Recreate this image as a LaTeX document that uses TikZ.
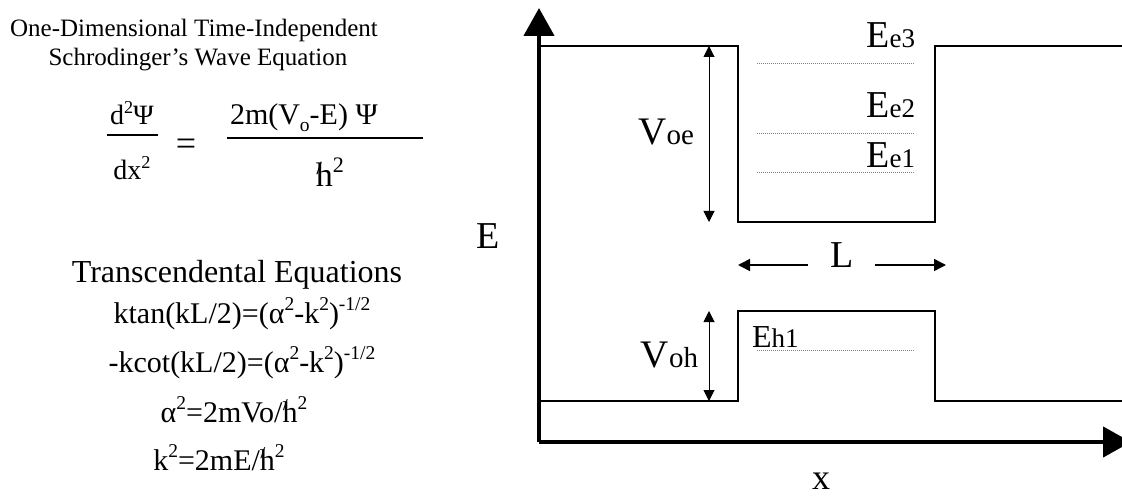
\documentclass[tikz,border=0pt]{standalone}
\usepackage{fontspec}
\setmainfont{Liberation Serif}
\usetikzlibrary{arrows.meta}
\newcommand{\fs}[1]{\fontsize{#1}{#1}\selectfont}
\newcommand{\mysup}[1]{\raisebox{0.42em}{\fontsize{0.65em}{0.65em}\selectfont #1}}
\newcommand{\mysub}[1]{\raisebox{-0.22em}{\fontsize{0.65em}{0.65em}\selectfont #1}}
\newcommand{\hb}{\ooalign{h\cr\kern0.02em\raisebox{0.38em}{\fontsize{0.55em}{0.55em}\selectfont\bfseries /}\cr}}
\begin{document}
\begin{tikzpicture}[x=1pt,y=-1pt,
  axis/.style={line width=4.5pt,-{Triangle[length=28pt,width=30pt]}},
  pot/.style={line width=1.4pt,line join=miter},
  dim/.style={line width=1pt,{Triangle[length=11pt,width=11pt]}-{Triangle[length=11pt,width=11pt]}},
  larr/.style={line width=1.5pt,-{Triangle[length=12pt,width=12pt]}},
  lev/.style={line width=0.9pt,gray,dash pattern=on 1.2pt off 0.8pt},
  frac/.style={line width=1.2pt},
  txt/.style={inner sep=0pt,outer sep=0pt}
]
\useasboundingbox (0,0) rectangle (1122,497);
% axes
\coordinate (O) at (539,442);
\coordinate (Ytip) at (539,8);
\coordinate (Xtip) at (1131,442);
\draw[axis] (O) -- (Ytip);
\draw[axis] (O) -- (Xtip);
% conduction band profile
\coordinate (c1) at (539,46);
\coordinate (c2) at (738,46);
\coordinate (c3) at (738,222);
\coordinate (c4) at (935,222);
\coordinate (c5) at (935,46);
\coordinate (c6) at (1122,46);
\draw[pot] (c1) -- (c2) -- (c3) -- (c4) -- (c5) -- (c6);
% valence band profile
\coordinate (v1) at (539,401);
\coordinate (v2) at (738,401);
\coordinate (v3) at (738,311);
\coordinate (v4) at (935,311);
\coordinate (v5) at (935,401);
\coordinate (v6) at (1122,401);
\draw[pot] (v1) -- (v2) -- (v3) -- (v4) -- (v5) -- (v6);
% dimension arrows
\coordinate (voeT) at (709,46);
\coordinate (voeB) at (709,222);
\coordinate (vohT) at (709,311);
\coordinate (vohB) at (709,401);
\draw[dim] (voeT) -- (voeB);
\draw[dim] (vohT) -- (vohB);
% energy levels
\coordinate (e3a) at (757,63);  \coordinate (e3b) at (914,63);
\coordinate (e2a) at (757,133); \coordinate (e2b) at (914,133);
\coordinate (e1a) at (757,172); \coordinate (e1b) at (914,172);
\coordinate (h1a) at (757,350); \coordinate (h1b) at (914,350);
\draw[lev] (e3a) -- (e3b);
\draw[lev] (e2a) -- (e2b);
\draw[lev] (e1a) -- (e1b);
\draw[lev] (h1a) -- (h1b);
% labels right
\node[txt,anchor=base east] (Ee3) at (915,48) {\fs{38}E\fs{27}e3};
\node[txt,anchor=base east] (Ee2) at (915,118) {\fs{38}E\fs{27}e2};
\node[txt,anchor=base east] (Ee1) at (915,168) {\fs{38}E\fs{27}e1};
\node[txt,anchor=base east] (Voe) at (694,145) {\fs{39}V\fs{29}oe};
\node[txt,anchor=base east] (Voh) at (698,367) {\fs{39}V\fs{29}oh};
\node[txt,anchor=base west] (Eh1) at (752,347) {\fs{32}E\fs{27}h1};
\node[txt,anchor=base] (Lab) at (842,268) {\fs{38}L};
\coordinate (la1) at (808,265); \coordinate (la2) at (738,265);
\coordinate (lb1) at (875,265); \coordinate (lb2) at (946,265);
\draw[larr] (la1) -- (la2);
\draw[larr] (lb1) -- (lb2);
\node[txt,anchor=base] (Elab) at (488,248) {\fs{38}E};
\node[txt,anchor=base] (xlab) at (821,489) {\fs{36}x};
% left texts
\node[txt,anchor=base] (t1) at (194,37) {\fs{25}One-Dimensional Time-Independent};
\node[txt,anchor=base] (t2) at (198,66) {\fs{25}Schrodinger’s Wave Equation};
\node[txt,anchor=base] (num1) at (132,125) {\fs{28}d\mysup{2}Ψ};
\coordinate (f1a) at (107,135); \coordinate (f1b) at (158,135);
\draw[frac] (f1a) -- (f1b);
\node[txt,anchor=base] (den1) at (132,180) {\fs{28}dx\mysup{2}};
\node[txt,anchor=center] (eq) at (186,147) {\fs{36}=};
\node[txt,anchor=base west] (num2) at (230,125) {\fs{30}2m(V\mysub{o}-E) Ψ};
\coordinate (f2a) at (227,138); \coordinate (f2b) at (423,138);
\draw[frac] (f2a) -- (f2b);
\node[txt,anchor=base] (den2) at (330,187) {\fs{34}\hb\mysup{2}};
\node[txt,anchor=base] (t3) at (237,283) {\fs{32}Transcendental Equations};
\node[txt,anchor=base] (q1) at (242,323) {\fs{30}ktan(kL/2)=(α\mysup{2}-k\mysup{2})\mysup{-1/2}};
\node[txt,anchor=base] (q2) at (242,372) {\fs{30}-kcot(kL/2)=(α\mysup{2}-k\mysup{2})\mysup{-1/2}};
\node[txt,anchor=base] (q3) at (234,422) {\fs{30}α\mysup{2}=2mVo/\hb\mysup{2}};
\node[txt,anchor=base] (q4) at (219,470) {\fs{30}k\mysup{2}=2mE/\hb\mysup{2}};
\end{tikzpicture}
\end{document}
